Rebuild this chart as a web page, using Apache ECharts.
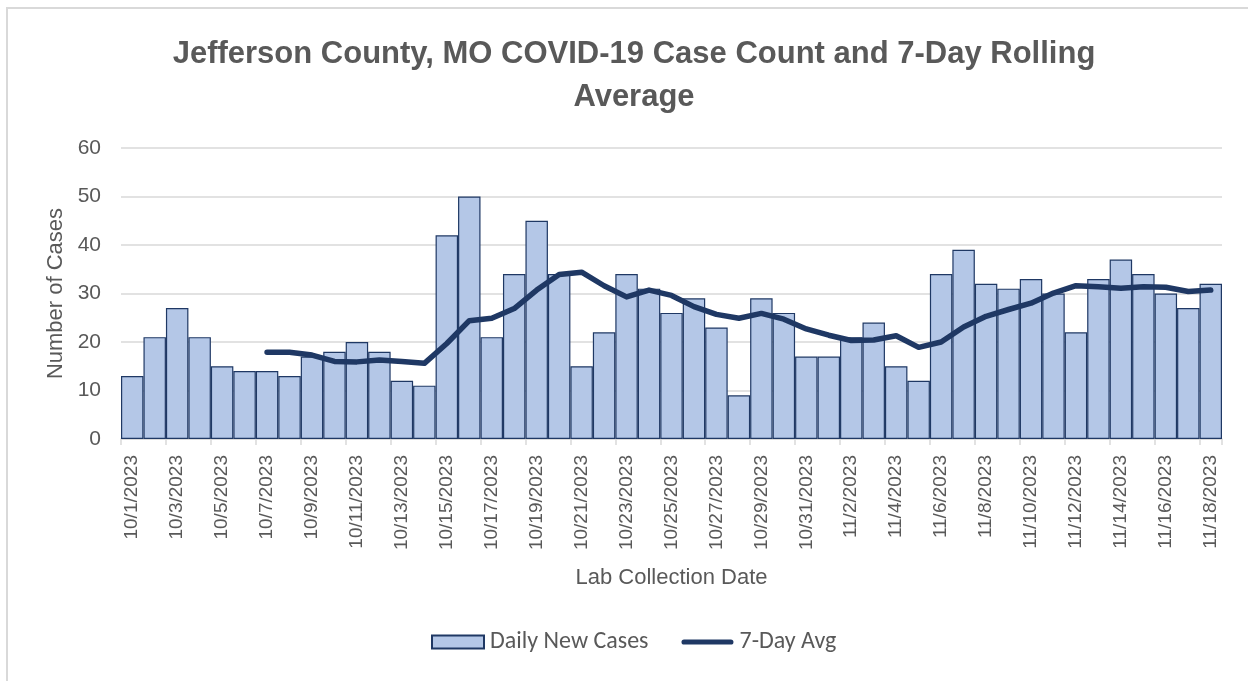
<!DOCTYPE html>
<html>
<head>
<meta charset="utf-8">
<script src="https://cdn.jsdelivr.net/npm/echarts@6/dist/echarts.min.js"></script>
<style>
html,body{margin:0;padding:0;background:#fff;}
#main{width:1248px;height:681px;}
</style>
</head>
<body>
<div id="main"></div>
<script>
const dates = ["10/1/2023","10/2/2023","10/3/2023","10/4/2023","10/5/2023","10/6/2023","10/7/2023","10/8/2023","10/9/2023","10/10/2023","10/11/2023","10/12/2023","10/13/2023","10/14/2023","10/15/2023","10/16/2023","10/17/2023","10/18/2023","10/19/2023","10/20/2023","10/21/2023","10/22/2023","10/23/2023","10/24/2023","10/25/2023","10/26/2023","10/27/2023","10/28/2023","10/29/2023","10/30/2023","10/31/2023","11/1/2023","11/2/2023","11/3/2023","11/4/2023","11/5/2023","11/6/2023","11/7/2023","11/8/2023","11/9/2023","11/10/2023","11/11/2023","11/12/2023","11/13/2023","11/14/2023","11/15/2023","11/16/2023","11/17/2023","11/18/2023"];
const dailyNewCases = [13,21,27,21,15,14,14,13,17,18,20,18,12,11,42,50,21,34,45,34,15,22,34,31,26,29,23,9,29,26,17,17,21,24,15,12,34,39,32,31,33,30,22,33,37,34,30,27,32];
const sevenDayAvg = [null,null,null,null,null,null,17.9,17.9,17.3,16.0,15.9,16.3,16.0,15.6,19.7,24.4,24.9,26.9,30.7,33.9,34.4,31.6,29.3,30.7,29.6,27.3,25.7,24.9,25.9,24.7,22.7,21.4,20.3,20.4,21.3,18.9,20.0,23.1,25.3,26.7,28.0,30.1,31.6,31.4,31.1,31.4,31.3,30.4,30.7];
const yTicks = {min:0, max:60, interval:10};

const chart = echarts.init(document.getElementById('main'));
const gray = '#595959';
chart.setOption({
  backgroundColor:'#fff',
  animation:false,
  graphic:[{type:'rect',shape:{x:7,y:8,width:1300,height:700},style:{fill:'none',stroke:'#d9d9d9',lineWidth:2},z:-1}],
  title:{
    text:'Jefferson County, MO COVID-19 Case Count and 7-Day Rolling\nAverage',
    left:629, textAlign:'center', top:28,
    textStyle:{fontFamily:'Liberation Sans',fontWeight:'bold',fontSize:31,color:gray,lineHeight:43}
  },
  legend:{
    bottom:22, left:426,
    itemWidth:52, itemHeight:13, itemGap:33,
    textStyle:{fontFamily:'Carlito, Open Sans, Liberation Sans',fontSize:24,color:gray,padding:[0,0,0,1]},
    data:[{name:'Daily New Cases',icon:'rect'},
          {name:'7-Day Avg',icon:'path://M5,0 L95,0 A5,5 0 0 1 95,10 L5,10 A5,5 0 0 1 5,0 Z'}]
  },
  grid:{left:121,right:26,top:148,height:291,containLabel:false},
  xAxis:{
    type:'category', data:dates, boundaryGap:true,
    name:'Lab Collection Date', nameLocation:'middle', nameGap:128,
    nameTextStyle:{fontFamily:'Liberation Sans',fontSize:22,color:gray},
    axisLine:{lineStyle:{color:'#d9d9d9',width:1.5}},
    axisTick:{show:true,interval:1,length:6,lineStyle:{color:'#d9d9d9',width:1.5}},
    axisLabel:{interval:1,rotate:90,fontFamily:'Liberation Sans',fontSize:19,color:gray,margin:16}
  },
  yAxis:{
    type:'value', min:yTicks.min, max:yTicks.max, interval:yTicks.interval,
    name:'Number of Cases', nameLocation:'middle', nameGap:49,
    nameTextStyle:{fontFamily:'Liberation Sans',fontSize:22,color:gray},
    axisLine:{show:false}, axisTick:{show:false},
    axisLabel:{fontFamily:'Liberation Sans',fontSize:21,color:gray,margin:20},
    splitLine:{lineStyle:{color:'#d9d9d9',width:1.5}}
  },
  series:[
    {name:'Daily New Cases',type:'bar',data:dailyNewCases,barCategoryGap:'0%',
     itemStyle:{color:'#b4c7e7',borderColor:'#1f3864',borderWidth:1.2}},
    {name:'7-Day Avg',type:'line',data:sevenDayAvg,showSymbol:false,symbol:'none',
     lineStyle:{color:'#1f3864',width:5.5,cap:'round',join:'round'},itemStyle:{color:'#1f3864'}}
  ]
});
</script>
</body>
</html>
